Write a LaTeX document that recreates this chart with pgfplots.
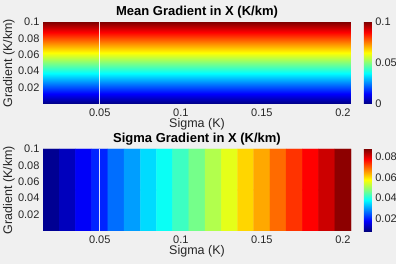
\documentclass[border=0pt]{standalone}
\usepackage{pgfplots}
\pgfplotsset{compat=1.18}
\usepackage{fontspec}
\setmainfont{Liberation Sans}
\definecolor{figbg}{RGB}{240,240,240}
\definecolor{txt}{RGB}{38,38,38}
\pgfplotsset{
  /pgf/number format/fixed,
  /pgf/number format/precision=3,
  /pgf/number format/assume math mode=true,
  myaxis/.style={
    scale only axis, width=308pt, height=82pt,
    anchor=south west,
    xmin=0.015, xmax=0.205, ymin=0, ymax=0.1,
    xtick={0.05,0.1,0.15,0.2}, ytick={0.02,0.04,0.06,0.08,0.1},
    scaled ticks=false,
    axis line style={draw=none},
    major tick length=0pt,
    tick label style={font=\fontsize{11}{12}\selectfont, text=txt},
    xticklabel style={anchor=center, yshift=-8.5pt},
    every axis x label/.style={at={(axis description cs:0.5,-0.25)}, anchor=center, font=\fontsize{12.5}{14}\selectfont, text=txt},
    every axis y label/.style={at={(axis description cs:-0.1104,0.5)}, rotate=90, anchor=center, font=\fontsize{12.5}{14}\selectfont, text=txt},
    every axis title/.style={font=\bfseries\fontsize{13}{15}\selectfont, at={(axis description cs:0.5,1)}, anchor=center, yshift=9.5pt, text=black},
    xlabel={Sigma (K)}, ylabel={Gradient (K/km)},
    colormap/jet,
    colorbar,
  },
  mycb/.style={
    width=8pt,
    at={(parent axis.north east)}, anchor=north west, xshift=4.3pt,
    axis line style={draw=none},
    major tick length=0pt,
    scaled ticks=false,
    tick label style={font=\fontsize{11}{12}\selectfont, text=txt},
  }
}
\begin{document}
\begin{tikzpicture}
\path[use as bounding box, fill=figbg] (0,0) rectangle (396pt,264pt);
% top
\begin{axis}[myaxis, at={(43pt,160pt)},
  title={Mean Gradient in X (K/km)},
  point meta min=0, point meta max=0.1,
  colorbar style={mycb, ytick={0,0.05,0.1}}]
\addplot[surf, shader=interp, point meta=explicit] table[meta=c] {
x y c
0.015 0 0
0.205 0 0

0.015 0.1 0.1
0.205 0.1 0.1
};
\addplot[white, line width=0.8pt, opacity=0.85] coordinates {(0.05,0) (0.05,0.1)};
\end{axis}
% bottom
\begin{axis}[myaxis, at={(43pt,33pt)},
  title={Sigma Gradient in X (K/km)},
  point meta min=0.008, point meta max=0.088,
  colorbar style={mycb, ytick={0.02,0.04,0.06,0.08}}]
\addplot[matrix plot*, mesh/cols=19, mesh/rows=2, point meta=explicit] table[meta=c] {
x y c
0.02 0.025 0.0094
0.03 0.025 0.0128
0.04 0.025 0.0175
0.05 0.025 0.0208
0.06 0.025 0.0266
0.07 0.025 0.0304
0.08 0.025 0.0352
0.09 0.025 0.0388
0.10 0.025 0.0428
0.11 0.025 0.0472
0.12 0.025 0.0520
0.13 0.025 0.0560
0.14 0.025 0.0612
0.15 0.025 0.0648
0.16 0.025 0.0696
0.17 0.025 0.0740
0.18 0.025 0.0780
0.19 0.025 0.0820
0.20 0.025 0.0870
0.02 0.075 0.0094
0.03 0.075 0.0128
0.04 0.075 0.0175
0.05 0.075 0.0208
0.06 0.075 0.0266
0.07 0.075 0.0304
0.08 0.075 0.0352
0.09 0.075 0.0388
0.10 0.075 0.0428
0.11 0.075 0.0472
0.12 0.075 0.0520
0.13 0.075 0.0560
0.14 0.075 0.0612
0.15 0.075 0.0648
0.16 0.075 0.0696
0.17 0.075 0.0740
0.18 0.075 0.0780
0.19 0.075 0.0820
0.20 0.075 0.0870
};
\addplot[white, line width=0.8pt, opacity=0.85] coordinates {(0.05,0) (0.05,0.1)};
\end{axis}
\end{tikzpicture}
\end{document}
